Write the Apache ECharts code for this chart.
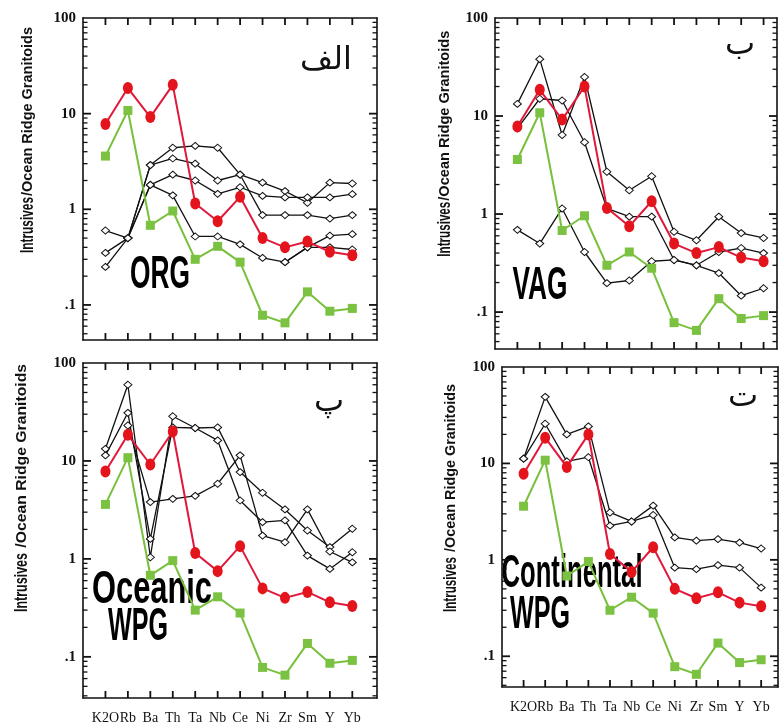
<!DOCTYPE html>
<html><head><meta charset="utf-8">
<script src="https://cdn.jsdelivr.net/npm/echarts@6/dist/echarts.min.js"></script>
<style>html,body{margin:0;padding:0;background:#fff}#c{width:779px;height:726px}</style>
</head><body><div id="c"></div>
<script>
// ---------- data ----------
const categories = ['K2O', 'Rb', 'Ba', 'Th', 'Ta', 'Nb', 'Ce', 'Ni', 'Zr', 'Sm', 'Y', 'Yb'];
const yTickValues = [0.1, 1, 10, 100];
const yTickLabels = ['.1', '1', '10', '100'];
const yMinorTickValues = [0.02,0.03,0.04,0.05,0.06,0.07,0.08,0.09,0.2,0.3,0.4,0.5,0.6,0.7,0.8,0.9,2,3,4,5,6,7,8,9,20,30,40,50,60,70,80,90];

// sample series (same in all panels)
const redSamples   = [7.8, 18.5, 9.2, 20, 1.15, 0.75, 1.35, 0.5, 0.4, 0.46, 0.36, 0.33];
const greenSamples = [3.6, 10.8, 0.68, 0.96, 0.3, 0.41, 0.28, 0.078, 0.065, 0.137, 0.086, 0.092];

// ORG reference patterns
const org1 = [0.6, 0.5, 2.9, 4.4, 4.6, 4.4, 2.3, 1.9, 1.55, 1.17, 1.9, 1.86];
const org2 = [0.35, 0.5, 2.9, 3.4, 3.0, 2.0, 2.3, 0.87, 0.87, 0.87, 0.8, 0.87];
const org3 = [null, 0.5, 1.8, 2.3, 2.0, 1.45, 1.7, 1.38, 1.33, 1.33, 1.33, 1.44];
const org4 = [0.25, 0.5, 1.8, 1.4, 0.52, 0.52, 0.43, 0.31, 0.28, 0.4, 0.53, 0.55];
const org5 = [null, null, null, null, null, null, null, null, 0.28, 0.4, 0.4, 0.38];
// VAG
const vag1 = [13.3, 38, 6.4, 25, 2.7, 1.75, 2.43, 0.66, 0.54, 0.94, 0.64, 0.57];
const vag2 = [7.5, 15, 14.4, 5.4, 1.14, 0.94, 0.94, 0.34, 0.3, 0.25, 0.147, 0.175];
const vag3 = [0.69, 0.5, 1.14, 0.41, 0.197, 0.21, 0.33, 0.34, 0.3, 0.41, 0.45, 0.4];
// Oceanic WPG
const owpg1 = [13.3, 60, 1.04, 28.6, 21.7, 22, 7.7, 4.73, 3.2, 1.95, 1.32, 2.03];
const owpg2 = [11.4, 31, 1.6, 22, 21.7, 16.2, 3.95, 2.37, 2.47, 1.08, 0.79, 1.17];
const owpg3 = [null, 23, 3.8, 4.1, 4.4, 5.85, 11.4, 1.73, 1.48, 3.2, 1.19, 0.92];
// Continental WPG
const cwpg1 = [11.2, 49, 20, 24.2, 3.1, 2.5, 3.65, 1.71, 1.58, 1.64, 1.51, 1.31];
const cwpg2 = [11.2, 25.8, 10.5, 11.6, 2.26, 2.5, 2.92, 0.83, 0.8, 0.88, 0.83, 0.515];

// ---------- layout ----------
const panels = [
  { grid: {left: 83, top: 18, width: 294, height: 322}, xMax: 13.1, yMin: 0.043, showX: false,
    lines: [org1, org2, org3, org4, org5],
    title: {cx: 28.5, yB: 253, lenA: 56, lenB: 169, textB: '/Ocean Ridge Granitoids'},
    letter: {text: 'الف', x: 326, y: 61},
    labels: [{text: 'ORG', x: 160, y: 275, w: 60}] },
  { grid: {left: 495, top: 18, width: 282, height: 331}, xMax: 12.6, yMin: 0.042, showX: false,
    lines: [vag1, vag2, vag3],
    title: {cx: 445, yB: 256.7, lenA: 55, lenB: 170, textB: '/Ocean Ridge Granitoids'},
    letter: {text: 'ب', x: 740, y: 46},
    labels: [{text: 'VAG', x: 540, y: 286, w: 55}] },
  { grid: {left: 83, top: 363, width: 294, height: 335}, xMax: 13.1, yMin: 0.038, showX: true,
    lines: [owpg1, owpg2, owpg3],
    title: {cx: 21.7, yB: 612, lenA: 59, lenB: 188, textB: ' /Ocean Ridge Granitoids'},
    letter: {text: 'پ', x: 329, y: 403},
    labels: [{text: 'Oceanic', x: 152, y: 590, w: 120}, {text: 'WPG', x: 138, y: 627, w: 60}] },
  { grid: {left: 502, top: 367, width: 276, height: 320}, xMax: 12.78, yMin: 0.048, showX: true,
    lines: [cwpg1, cwpg2],
    title: {cx: 451, yB: 612, lenA: 55, lenB: 172, textB: ' /Ocean Ridge Granitoids'},
    letter: {text: 'ت', x: 743, y: 398},
    labels: [{text: 'Continental', x: 572, y: 574, w: 141}, {text: 'WPG', x: 540, y: 615, w: 60}] }
];

const ctx = document.createElement('canvas').getContext('2d');
function measure(text, font) { ctx.font = font; return ctx.measureText(text).width; }
function pairs(arr) { const out = []; arr.forEach((v, i) => { if (v != null) out.push([i + 1, v]); }); return out; }
const yLabelFmt = v => {
  const lg = Math.log10(v), k = Math.round(lg);
  if (Math.abs(lg - k) > 0.01) return '';
  const idx = yTickValues.findIndex(t => Math.round(Math.log10(t)) === k);
  return idx >= 0 ? yTickLabels[idx] : '';
};
const xLabelFmt = v => {
  if (Math.abs(v - Math.round(v)) > 0.01) return '';
  return categories[Math.round(v) - 1] || '';
};

// tick marks as filled rectangles placed through the axis scales
function yTickSeries(xIdx, yIdx, values, len, thick) {
  return {type: 'custom', coordinateSystem: 'cartesian2d', xAxisIndex: xIdx, yAxisIndex: yIdx, silent: true, z: 6, clip: false,
    data: values.map(v => [1, v]),
    renderItem: (params, api) => {
      const cs = params.coordSys;
      const y = api.coord([api.value(0), api.value(1)])[1];
      return {type: 'group', children: [
        {type: 'rect', shape: {x: cs.x, y: y - thick / 2, width: len, height: thick}, style: {fill: '#111'}},
        {type: 'rect', shape: {x: cs.x + cs.width - len, y: y - thick / 2, width: len, height: thick}, style: {fill: '#111'}}
      ]};
    }};
}
function xTickSeries(xIdx, yIdx, values, len, thick) {
  return {type: 'custom', coordinateSystem: 'cartesian2d', xAxisIndex: xIdx, yAxisIndex: yIdx, silent: true, z: 6, clip: false,
    data: values.map(v => [v, 1]),
    renderItem: (params, api) => {
      const cs = params.coordSys;
      const x = api.coord([api.value(0), api.value(1)])[0];
      return {type: 'group', children: [
        {type: 'rect', shape: {x: x - thick / 2, y: cs.y, width: thick, height: len}, style: {fill: '#111'}},
        {type: 'rect', shape: {x: x - thick / 2, y: cs.y + cs.height - len, width: thick, height: len}, style: {fill: '#111'}}
      ]};
    }};
}

const grids = [], xAxes = [], yAxes = [], series = [], graphics = [];
const serifBold = '"Liberation Serif", "Times New Roman", serif';
const lineOn = () => ({show: true, onZero: false, lineStyle: {color: '#111', width: 1.6}});
const xTickPos = categories.map((c, i) => i + 1);
panels.forEach((p, i) => {
  grids.push(Object.assign({show: false, outerBoundsMode: 'none', containLabel: false}, p.grid));
  ['bottom', 'top'].forEach(pos => xAxes.push({type: 'value', gridIndex: i, min: 0, max: p.xMax, interval: 1, position: pos,
    axisLine: lineOn(), splitLine: {show: false}, axisTick: {show: false},
    axisLabel: {show: pos === 'bottom' && p.showX, formatter: xLabelFmt, margin: 13,
      showMinLabel: true, showMaxLabel: true, hideOverlap: false,
      color: '#111', fontFamily: serifBold, fontSize: 14}}));
  ['left', 'right'].forEach(pos => yAxes.push({type: 'log', logBase: 10, gridIndex: i, min: p.yMin, max: 100, position: pos,
    axisLine: lineOn(), splitLine: {show: false}, axisTick: {show: false},
    axisLabel: {show: pos === 'left', formatter: yLabelFmt, margin: 7,
      showMinLabel: true, showMaxLabel: true,
      color: '#111', fontFamily: serifBold, fontWeight: 'bold', fontSize: 15}}));
  const yIdx = i * 2, xIdx = i * 2;
  series.push(yTickSeries(xIdx, yIdx, yMinorTickValues.filter(v => v > p.yMin && v < 100), 4.5, 1.3));
  series.push(yTickSeries(xIdx, yIdx, yTickValues.filter(v => v > p.yMin && v < 100), 8, 1.8));
  series.push(xTickSeries(xIdx, yIdx, xTickPos, 7, 1.8));
  p.lines.forEach(arr => series.push({type: 'line', xAxisIndex: xIdx, yAxisIndex: yIdx, data: pairs(arr),
    symbol: 'diamond', symbolSize: [8, 7], showSymbol: true, z: 2,
    lineStyle: {color: '#111', width: 1.3}, itemStyle: {color: '#fff', borderColor: '#111', borderWidth: 1}}));
  series.push({type: 'line', xAxisIndex: xIdx, yAxisIndex: yIdx, data: pairs(greenSamples), z: 3,
    symbol: 'rect', symbolSize: 9, lineStyle: {color: '#78c03c', width: 2}, itemStyle: {color: '#7cc242'}});
  series.push({type: 'line', xAxisIndex: xIdx, yAxisIndex: yIdx, data: pairs(redSamples), z: 4,
    symbol: 'circle', symbolSize: [10, 12], lineStyle: {color: '#e0183c', width: 2}, itemStyle: {color: '#e3141c'}});

  // y-axis title (vertical, two sizes)
  const fA = 'bold 18px "Liberation Sans", Arial, sans-serif';
  const fB = 'bold 14px "Liberation Sans", Arial, sans-serif';
  const t = p.title;
  graphics.push({type: 'text', x: t.cx, y: t.yB, rotation: Math.PI / 2, scaleX: t.lenA / measure('Intrusives', fA),
    style: {text: 'Intrusives', font: fA, fill: '#111', align: 'left', verticalAlign: 'middle', textAlign: 'left', textVerticalAlign: 'middle'}});
  graphics.push({type: 'text', x: t.cx, y: t.yB - t.lenA - 1, rotation: Math.PI / 2, scaleX: t.lenB / measure(t.textB, fB),
    style: {text: t.textB, font: fB, fill: '#111', align: 'left', verticalAlign: 'middle', textAlign: 'left', textVerticalAlign: 'middle'}});
  // Persian panel letter
  graphics.push({type: 'text', x: p.letter.x, y: p.letter.y,
    style: {text: p.letter.text, font: '32px "DejaVu Sans", sans-serif', fill: '#111', align: 'center', verticalAlign: 'middle', textAlign: 'center', textVerticalAlign: 'middle'}});
  // big field labels
  const fL = 'bold 46px "Liberation Sans", Arial, sans-serif';
  p.labels.forEach(l => graphics.push({type: 'text', x: l.x, y: l.y, scaleX: l.w / measure(l.text, fL),
    style: {text: l.text, font: fL, fill: '#000', align: 'center', verticalAlign: 'middle', textAlign: 'center', textVerticalAlign: 'middle'}}));
});

const chart = echarts.init(document.getElementById('c'), null, {renderer: 'canvas', width: 779, height: 726});
chart.setOption({
  animation: false,
  backgroundColor: '#fff',
  grid: grids, xAxis: xAxes, yAxis: yAxes, series: series,
  graphic: {elements: graphics}
});
</script>
</body></html>
